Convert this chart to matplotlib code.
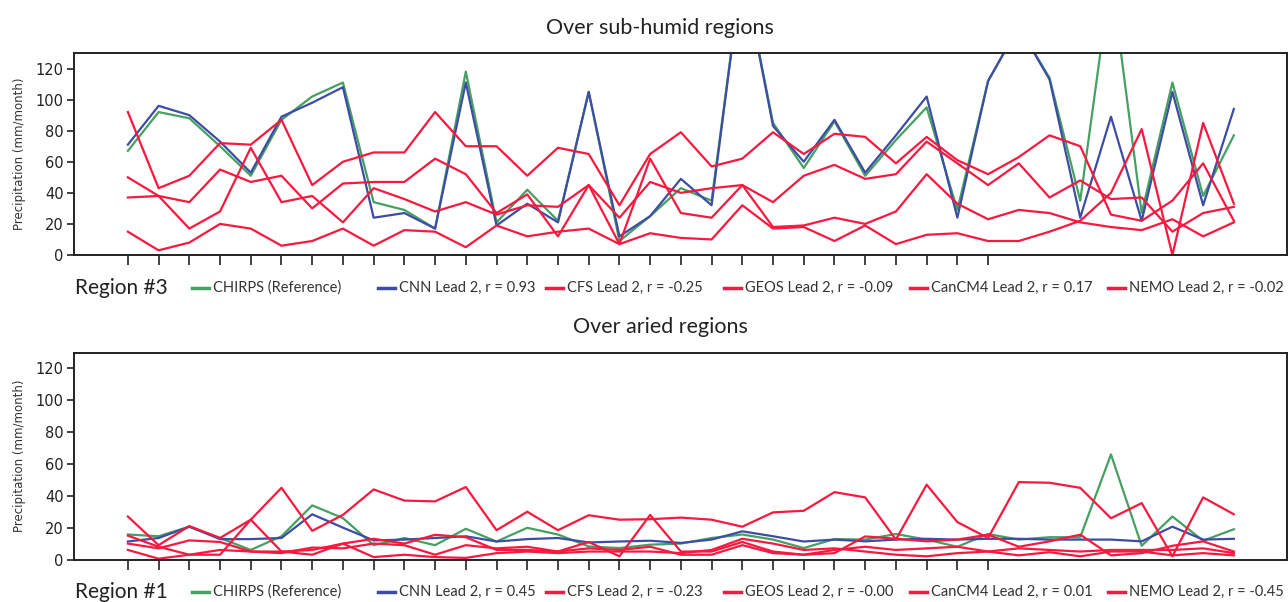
import numpy as np
import matplotlib.pyplot as plt
from matplotlib.lines import Line2D

# months along the x axis (only the first 29 get a tick)
n_months = 37
n_ticks = 29

# ---- sub-humid regions (Region #3) ----
chirps_hum = [67, 92, 88, 70, 51, 87, 102, 111, 34, 29, 17, 118, 21, 42, 22, 105, 9, 25, 43, 35,
              185, 85, 56, 86, 51, 74, 95, 29, 112, 147, 114, 35, 180, 27, 111, 38, 77]
cnn_hum = [71, 96, 90, 73, 53, 89, 98, 108, 24, 27, 17, 111, 19, 33, 21, 105, 12, 25, 49, 32,
           185, 83, 60, 87, 53, 77, 102, 24, 112, 147, 113, 24, 89, 22, 105, 32, 94]
cfs_hum = [92, 43, 51, 72, 71, 87, 45, 60, 66, 66, 92, 70, 70, 51, 69, 65, 32, 65, 79, 57,
           62, 79, 65, 78, 76, 59, 76, 61, 52, 63, 77, 70, 26, 22, 35, 59, 22]
geos_hum = [50, 38, 17, 28, 69, 34, 38, 21, 43, 36, 28, 34, 26, 32, 31, 45, 24, 47, 40, 43,
            45, 34, 51, 58, 49, 52, 73, 59, 45, 59, 37, 48, 36, 37, 15, 27, 31]
cancm4_hum = [37, 38, 34, 55, 47, 51, 30, 46, 47, 47, 62, 52, 27, 39, 12, 45, 7, 62, 27, 24,
              45, 18, 19, 24, 20, 28, 52, 33, 23, 29, 27, 21, 18, 16, 23, 12, 21]
nemo_hum = [15, 3, 8, 20, 17, 6, 9, 17, 6, 16, 15, 5, 19, 12, 15, 17, 7, 14, 11, 10,
            32, 17, 18, 9, 19, 7, 13, 14, 9, 9, 15, 22, 40, 81, 0, 85, 33]
labels_hum = ['CHIRPS (Reference)', 'CNN Lead 2, r = 0.93', 'CFS Lead 2, r = -0.25',
              'GEOS Lead 2, r = -0.09', 'CanCM4 Lead 2, r = 0.17', 'NEMO Lead 2, r = -0.02']

# ---- arid regions (Region #1) ----
chirps_arid = [15.7, 14.6, 20.6, 13.5, 6, 14.6, 34, 26, 9, 13.5, 9, 19.3, 11.3, 19.9, 15.7, 8.2, 7.2, 9.3, 10,
               13.5, 15.7, 12.5, 7.2, 12.8, 12.5, 16, 12.5, 8, 16, 12.5, 14, 14, 66, 8.6, 27, 11.8, 19]
cnn_arid = [11.3, 13.5, 20.6, 12.8, 12.8, 13.5, 28.4, 20, 12, 12.5, 13.5, 14.6, 11.3, 12.8, 13.5, 10.7, 11.3,
            11.8, 10.4, 12.5, 17.7, 14.6, 11.3, 12.5, 11.4, 12.5, 13, 12.5, 13, 13, 12.5, 12.5, 12.5, 11.4,
            20.6, 12.5, 13]
cfs_arid = [27, 9, 21, 13.5, 25, 45, 18, 28, 44, 37, 36.5, 45.5, 18.4, 30, 18.4, 27.8, 25, 25.3, 26.3, 25,
            20.6, 29.6, 30.6, 42.3, 39, 12.5, 47, 23.5, 13.5, 48.6, 48.2, 45, 25.9, 35.4, 2, 39, 28.4]
geos_arid = [15, 8, 3, 3, 25, 5, 6, 10, 13, 10, 15.5, 14, 6, 6, 5, 11, 2, 28, 5, 5,
             11, 5, 3, 4, 14.5, 13, 11.4, 12.5, 15.6, 8, 11.4, 15.6, 2.6, 4, 8.6, 11.4, 5]
cancm4_arid = [10, 7, 12, 11, 5, 4, 7.5, 7, 10, 9, 3, 9, 7, 8, 5, 7, 6, 8, 3, 3,
               9, 4, 3, 6, 8, 6, 7, 8, 5, 7, 6, 5, 6, 6, 6, 7, 4]
nemo_arid = [6, 0.5, 3, 6, 5, 5, 3, 10, 1.5, 3, 1.5, 1, 4, 5, 4, 5, 5, 5, 4, 6,
             13, 10, 6, 7, 5, 3, 2, 4, 5, 2.6, 4.6, 2, 5, 5, 2.6, 4, 2.6]
labels_arid = ['CHIRPS (Reference)', 'CNN Lead 2, r = 0.45', 'CFS Lead 2, r = -0.23',
               'GEOS Lead 2, r = -0.00', 'CanCM4 Lead 2, r = 0.01', 'NEMO Lead 2, r = -0.45']

colors = ['#46a062', '#3d4da3', '#f7193f', '#f7193f', '#f7193f', '#f7193f']

W, H = 1288, 602
# left pixel of each legend key (same layout in both rows)
key_x = [192, 378, 546, 724, 910, 1108]

fig = plt.figure(figsize=(W / 100, H / 100), dpi=100)


def panel(rect, series, labels, title, region, title_y, legend_y):
    ax = fig.add_axes(rect)
    x = np.arange(n_months)
    for vals, lab, col in zip(series, labels, colors):
        ax.plot(x, vals, color=col, lw=1.6, label=lab)
    ax.set_xlim(-1.77, 37.73)
    ax.set_ylim(0, 130)
    ax.set_yticks([0, 20, 40, 60, 80, 100, 120])
    ax.set_xticks(np.arange(n_ticks))
    ax.set_xticklabels([])
    ax.tick_params(axis='y', direction='out', length=5, width=1.2, labelsize=10.5,
                   colors='#222222', pad=2)
    ax.tick_params(axis='x', direction='out', length=7, width=1.2, colors='#222222')
    for s in ax.spines.values():
        s.set_linewidth(1.4)
        s.set_color('#222222')
    ax.set_ylabel('Precipitation (mm/month)', fontsize=8.5, color='#333333')
    ax.yaxis.set_label_coords(-0.039, 0.5)

    fig.text(660 / W, 1 - title_y / H, title, fontsize=15.5, family='Lato',
             ha='center', va='center', color='#222222')
    fig.text(75 / W, 1 - legend_y / H, region, fontsize=15, family='Lato',
             ha='left', va='center', color='#222222')

    # legend row: short coloured key + label, placed like the original
    yl = 1 - legend_y / H
    for kx, lab, col in zip(key_x, labels, colors):
        fig.add_artist(Line2D([kx / W, (kx + 17) / W], [yl, yl], transform=fig.transFigure,
                              color=col, lw=2.5))
        fig.text((kx + 21) / W, yl, lab, fontsize=10.5, family='Lato', ha='left',
                 va='center', color='#333333')
    return ax


top = panel([73.5 / W, 1 - 255 / H, (1287 - 73.5) / W, 202 / H],
            [chirps_hum, cnn_hum, cfs_hum, geos_hum, cancm4_hum, nemo_hum],
            labels_hum, 'Over sub-humid regions', 'Region #3', 28, 288)
bottom = panel([73.5 / W, 1 - 559.5 / H, (1287 - 73.5) / W, 207 / H],
               [chirps_arid, cnn_arid, cfs_arid, geos_arid, cancm4_arid, nemo_arid],
               labels_arid, 'Over aried regions', 'Region #1', 327, 592)

fig.savefig('out.png', dpi=100)
